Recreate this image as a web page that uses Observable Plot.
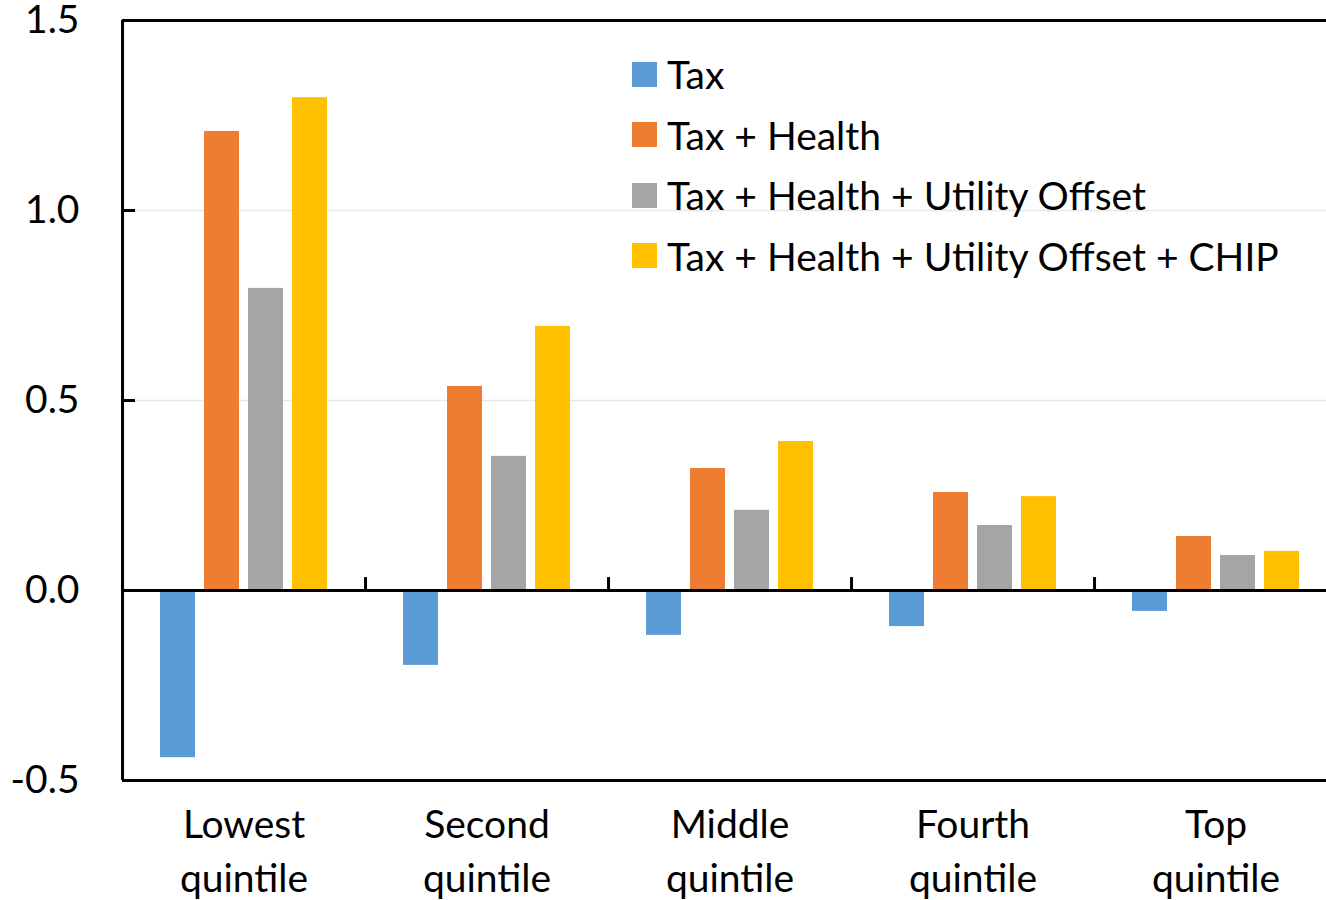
<!DOCTYPE html>
<html><head><meta charset="utf-8">
<script src="https://cdn.jsdelivr.net/npm/d3@7"></script>
<script src="https://cdn.jsdelivr.net/npm/@observablehq/plot@0.6"></script>
<style>
body{margin:0;background:#fff;}
#wrap{position:relative;width:1326px;height:900px;overflow:hidden;font-family:Lato, sans-serif;background:#fff;}
#wrap svg{max-width:none !important;display:block;}
.legend{position:absolute;left:632px;top:44px;color:#000;}
.row{display:flex;align-items:center;height:60.5px;font-size:39px;white-space:nowrap;}
.sw{width:25px;height:25px;margin-right:10px;flex:none;}
</style></head><body><div id="wrap"></div>
<script>
const quintiles = ["Lowest quintile", "Second quintile", "Middle quintile", "Fourth quintile", "Top quintile"];
const series = ["Tax", "Tax + Health", "Tax + Health + Utility Offset", "Tax + Health + Utility Offset + CHIP"];
const colors = ["#5B9BD5", "#ED7D31", "#A5A5A5", "#FFC000"];
const tax = [-0.44, -0.197, -0.118, -0.095, -0.055];
const taxHealth = [1.208, 0.537, 0.321, 0.258, 0.142];
const taxHealthUtility = [0.795, 0.353, 0.211, 0.171, 0.092];
const taxHealthUtilityChip = [1.297, 0.695, 0.392, 0.247, 0.103];
const yTicks = [-0.5, 0, 0.5, 1.0, 1.5];
const gridTicks = [0.5, 1.0];

const seriesValues = [tax, taxHealth, taxHealthUtility, taxHealthUtilityChip];
const data = quintiles.flatMap((q, i) => series.map((s, j) => ({quintile: q, series: s, value: seriesValues[j][i]})));

const W = 1337, H = 900, ML = 122, MR = 0, MT = 20, MB = 120;
const pi = 0.2, po = 0.86;
const facetW = (W - ML - MR) / quintiles.length;
const step = facetW / (series.length - pi + 2 * po);
const edgeDx = -(po * step + (1 - pi) * step / 2);

const chart = Plot.plot({
  width: W, height: H,
  marginLeft: ML, marginRight: MR, marginTop: MT, marginBottom: MB,
  style: {fontFamily: "Lato, sans-serif", fontSize: "39px", color: "#000", background: "#fff", overflow: "hidden"},
  fx: {domain: quintiles, padding: 0, axis: null},
  x: {domain: series, paddingInner: pi, paddingOuter: po, axis: null},
  y: {domain: [-0.5, 1.5], axis: null},
  color: {domain: series, range: colors},
  marks: [
    Plot.gridY(gridTicks, {stroke: "#e8e8e8", strokeOpacity: 1, strokeWidth: 1.5}),
    Plot.barY(data, {fx: "quintile", x: "series", y: "value", fill: "series"}),
    Plot.ruleY([0], {strokeWidth: 3, stroke: "#000"}),
    Plot.ruleY([-0.5, 1.5], {strokeWidth: 3, stroke: "#000"}),
    Plot.ruleX(quintiles, {fx: d => d, x: () => series[0], y1: 0, y2: 0.034, dx: edgeDx, strokeWidth: 3, stroke: "#000"}),
    Plot.ruleX([quintiles[0]], {fx: d => d, x: () => series[0], y1: -0.5, y2: 1.5, dx: edgeDx, strokeWidth: 3, stroke: "#000"}),
    Plot.axisY(yTicks, {anchor: "left", tickSize: -13, tickPadding: 56, strokeWidth: 3, tickFormat: d => d.toFixed(1), fontSize: 39, label: null}),
    Plot.axisFx({anchor: "bottom", tickSize: 0, tickPadding: 19, fontSize: 39, lineHeight: 1.385, label: null, tickFormat: d => d.replace(" ", "\n")})
  ]
});

const wrap = document.getElementById("wrap");
wrap.appendChild(chart);

const legend = document.createElement("div");
legend.className = "legend";
series.forEach((s, i) => {
  const row = document.createElement("div");
  row.className = "row";
  const sw = document.createElement("div");
  sw.className = "sw";
  sw.style.background = colors[i];
  const t = document.createElement("span");
  t.textContent = s;
  row.appendChild(sw);
  row.appendChild(t);
  legend.appendChild(row);
});
wrap.appendChild(legend);
</script>
</body></html>
